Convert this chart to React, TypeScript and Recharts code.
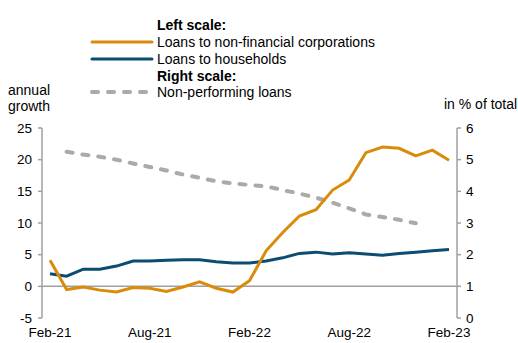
import React from "react";
import {
  LineChart,
  Line,
  XAxis,
  YAxis,
  ReferenceLine,
} from "recharts";

// categories (monthly)
const months = [
  "Feb-21", "Mar-21", "Apr-21", "May-21", "Jun-21", "Jul-21", "Aug-21",
  "Sep-21", "Oct-21", "Nov-21", "Dec-21", "Jan-22", "Feb-22", "Mar-22",
  "Apr-22", "May-22", "Jun-22", "Jul-22", "Aug-22", "Sep-22", "Oct-22",
  "Nov-22", "Dec-22", "Jan-23", "Feb-23",
];

// left scale, annual growth
const corporations = [
  4.1, -0.5, -0.1, -0.6, -0.9, -0.2, -0.3, -0.8, -0.1, 0.7, -0.3, -0.9, 0.9,
  5.6, 8.5, 11.1, 12.1, 15.2, 16.8, 21.1, 22.0, 21.8, 20.6, 21.5, 19.9,
];
const households = [
  2.0, 1.6, 2.7, 2.7, 3.2, 4.0, 4.0, 4.1, 4.2, 4.2, 3.9, 3.7, 3.7,
  4.0, 4.5, 5.2, 5.4, 5.1, 5.3, 5.1, 4.9, 5.2, 5.4, 5.6, 5.8,
];

// right scale, in % of total
const npl: (number | null)[] = [
  null, 5.25, 5.16, 5.09, 5.0, 4.88, 4.77, 4.66, 4.53, 4.43, 4.32, 4.25,
  4.2, 4.16, 4.04, 3.93, 3.8, 3.64, 3.46, 3.27, 3.19, 3.1, 2.99, null, null,
];

const leftTicks = [-5, 0, 5, 10, 15, 20, 25];
const rightTicks = [0, 1, 2, 3, 4, 5, 6];

const ORANGE = "#D98B0A";
const BLUE = "#0B4C73";
const GREY = "#AAAAAA";
const AXIS = "#A0A0A0";
const FONT = "'Liberation Sans', Arial, sans-serif";

const data = months.map((m, i) => ({
  month: m,
  corp: corporations[i],
  hh: households[i],
  npl: npl[i],
}));

const tickStyle = { fontSize: 13.5, fill: "#000", fontFamily: FONT };

const LegendRow: React.FC<{ top: number; color?: string; dashed?: boolean; bold?: boolean; text: string }> = ({
  top,
  color,
  dashed,
  bold,
  text,
}) => (
  <div style={{ position: "absolute", left: 0, top, height: 16, width: 420 }}>
    {color && (
      <svg width={64} height={16} style={{ position: "absolute", left: 90, top: 0 }}>
        <line
          x1={2}
          x2={dashed ? 60 : 62}
          y1={8}
          y2={8}
          stroke={color}
          strokeWidth={dashed ? 4 : 3}
          strokeLinecap="round"
          strokeDasharray={dashed ? "6 10" : undefined}
        />
      </svg>
    )}
    <span
      style={{
        position: "absolute",
        left: 157,
        top: 0,
        fontSize: 14,
        lineHeight: "16px",
        fontWeight: bold ? "bold" : "normal",
        whiteSpace: "nowrap",
      }}
    >
      {text}
    </span>
  </div>
);

const App: React.FC = () => {
  return (
    <div
      style={{
        position: "fixed",
        left: 0,
        top: 0,
        width: 518,
        height: 343,
        background: "#fff",
        fontFamily: FONT,
        color: "#000",
      }}
    >
      <LegendRow top={17} bold text="Left scale:" />
      <LegendRow top={34} color={ORANGE} text="Loans to non-financial corporations" />
      <LegendRow top={51} color={BLUE} text="Loans to households" />
      <LegendRow top={68} bold text="Right scale:" />
      <LegendRow top={84} color={GREY} dashed text="Non-performing loans" />

      <div style={{ position: "absolute", left: 8, top: 82, fontSize: 14, lineHeight: "16px", textAlign: "center" }}>
        annual
        <br />
        growth
      </div>
      <div style={{ position: "absolute", left: 444, top: 96, fontSize: 14, lineHeight: "16px", whiteSpace: "nowrap" }}>
        in % of total
      </div>

      <div style={{ position: "absolute", left: 0, top: 0 }}>
        <LineChart
          width={518}
          height={343}
          data={data}
          margin={{ top: 128, right: 0, bottom: 0, left: 0 }}
        >
          <XAxis
            dataKey="month"
            interval={5}
            axisLine={false}
            tickLine={false}
            height={25}
            tickMargin={3}
            padding={{ left: 8, right: 8 }}
            tick={tickStyle}
          />
          <YAxis
            yAxisId="left"
            orientation="left"
            width={42}
            domain={[-5, 25]}
            ticks={leftTicks}
            interval={0}
            tickSize={4}
            tickMargin={6}
            stroke={AXIS}
            strokeWidth={1.5}
            tick={tickStyle}
          />
          <YAxis
            yAxisId="right"
            orientation="right"
            width={61}
            domain={[0, 6]}
            ticks={rightTicks}
            interval={0}
            tickSize={4}
            tickMargin={5}
            stroke={AXIS}
            strokeWidth={1.5}
            tick={tickStyle}
          />
          <ReferenceLine yAxisId="left" y={0} stroke={AXIS} strokeWidth={1.5} />
          <Line
            yAxisId="right"
            dataKey="npl"
            stroke={GREY}
            strokeWidth={4}
            strokeDasharray="6 10"
            strokeLinecap="round"
            dot={false}
            activeDot={false}
            isAnimationActive={false}
          />
          <Line
            yAxisId="left"
            dataKey="hh"
            stroke={BLUE}
            strokeWidth={3}
            dot={false}
            activeDot={false}
            isAnimationActive={false}
          />
          <Line
            yAxisId="left"
            dataKey="corp"
            stroke={ORANGE}
            strokeWidth={3}
            dot={false}
            activeDot={false}
            isAnimationActive={false}
          />
        </LineChart>
      </div>
    </div>
  );
};

export default App;
